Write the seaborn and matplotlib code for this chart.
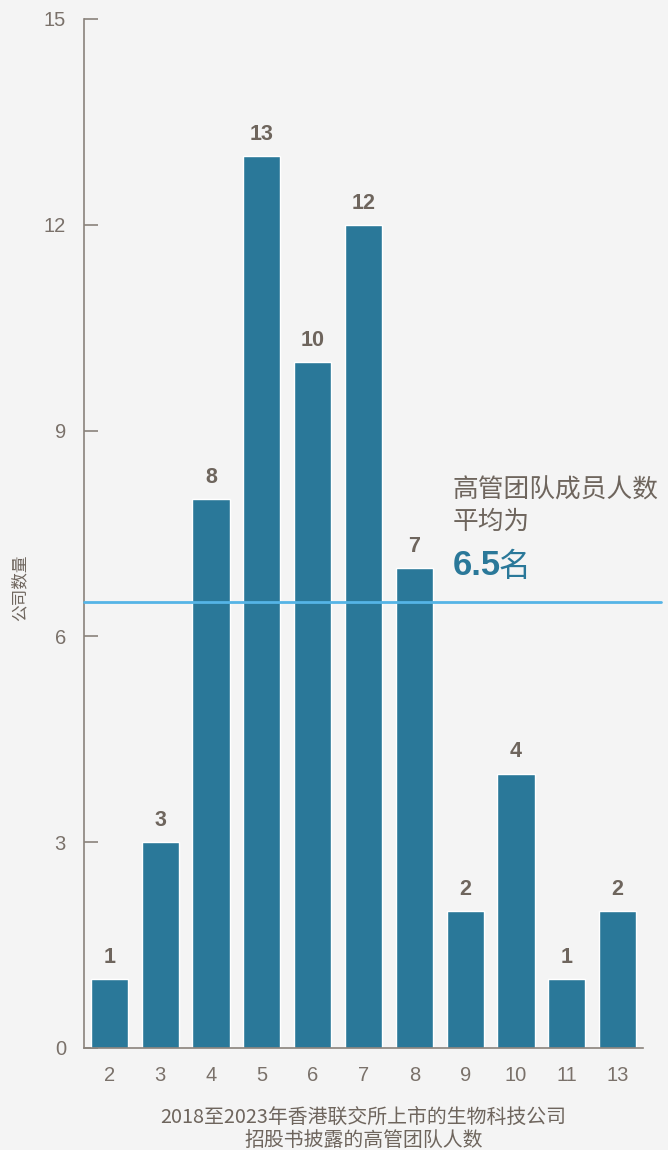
import matplotlib
matplotlib.use("Agg")
import matplotlib.pyplot as plt
import matplotlib.transforms as mtransforms
import seaborn as sns
import pandas as pd

team_sizes = ["2", "3", "4", "5", "6", "7", "8", "9", "10", "11", "13"]
company_counts = [1, 3, 8, 13, 10, 12, 7, 2, 4, 1, 2]
mean_size = 6.5
y_ticks = [0, 3, 6, 9, 12, 15]

BG = "#f4f4f4"
BAR = "#2a7899"
TEXT = "#6e655d"
TICK = "#7a716a"
SPINE = "#8a827b"
MEAN = "#55b4e6"
LATIN = ["Liberation Sans", "DejaVu Sans"]

sns.set_theme(style="white")
plt.rcParams["font.family"] = ["Noto Sans CJK SC", "DejaVu Sans"]

df = pd.DataFrame({"size": team_sizes, "count": company_counts})

fig = plt.figure(figsize=(6.68, 11.5), dpi=100, facecolor=BG)
ax = fig.add_axes([0.1257, 0.0887, 0.8369, 0.8948], facecolor=BG)

sns.barplot(data=df, x="size", y="count", order=team_sizes, color=BAR,
            saturation=1, width=0.73, ax=ax)
for cont in ax.containers:
    ax.bar_label(cont, padding=8, fontsize=15.5, fontweight="bold",
                 color=TEXT, family=LATIN)

ax.set_xlim(-0.5, 10.5)
ax.set_ylim(0, 15)
ax.set_yticks(y_ticks)
ax.set_yticklabels([str(v) for v in y_ticks])

for side in ("top", "right"):
    ax.spines[side].set_visible(False)
for side in ("left", "bottom"):
    ax.spines[side].set_color(SPINE)
    ax.spines[side].set_linewidth(1.2)

ax.tick_params(axis="y", left=True, direction="in", length=10, width=1.2,
               color=SPINE, labelcolor=TICK, labelsize=14.5, pad=13)
ax.tick_params(axis="x", bottom=False, length=0, labelcolor=TICK,
               labelsize=14.5, pad=13)
for lab in ax.get_xticklabels() + ax.get_yticklabels():
    lab.set_family(LATIN)

# average line, running past the right end of the axis
trans = mtransforms.blended_transform_factory(ax.transAxes, ax.transData)
ax.plot([0, 1.033], [mean_size, mean_size], transform=trans, color=MEAN,
        lw=2, clip_on=False, zorder=3)

ax.text(6.75, 7.48, "高管团队成员人数\n平均为", fontsize=18.5, color=TEXT,
        ha="left", va="bottom", linespacing=1.25)
ax.text(6.75, 6.8, "6.5", fontsize=25, fontweight="bold", color=BAR,
        ha="left", va="bottom", family=LATIN)
ax.text(7.66, 6.78, "名", fontsize=23, color=BAR, ha="left", va="bottom")

ax.set_xlabel("2018至2023年香港联交所上市的生物科技公司\n招股书披露的高管团队人数",
              fontsize=14.3, color=TEXT, labelpad=16, linespacing=1.15)
ax.set_ylabel("公司数量", fontsize=12, color=TEXT)
ax.yaxis.set_label_coords(-0.1, 0.447)

fig.savefig("out.png", dpi=100, facecolor=BG)
